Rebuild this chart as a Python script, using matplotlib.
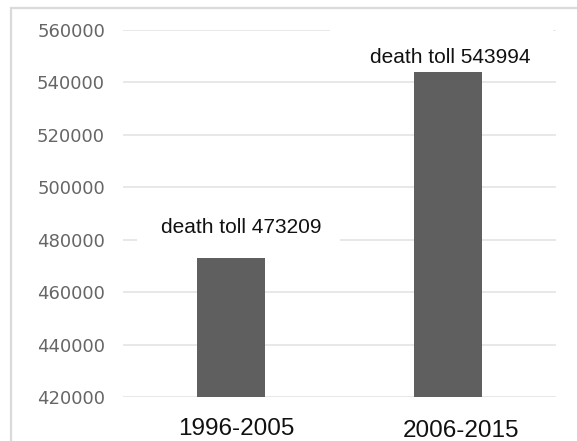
import matplotlib
matplotlib.use("Agg")
import matplotlib.pyplot as plt
import matplotlib.transforms as mtransforms
from matplotlib.patches import Rectangle

# death toll per decade
periods = ["1996-2005", "2006-2015"]
deaths = [473209, 543994]
yticks = [420000, 440000, 460000, 480000, 500000, 520000, 540000, 560000]

bar_color = "#5f5f5f"
grid_color = "#e2e2e2"

fig = plt.figure(figsize=(5.77, 4.41), dpi=100)
ax = fig.add_axes([0.2132, 0.0998, 0.7504, 0.8322])

x = list(range(len(periods)))
ax.bar(x, deaths, width=0.314, color=bar_color, zorder=3)

ax.set_xlim(-0.5, 1.5)
ax.set_ylim(yticks[0], yticks[-1])
ax.set_yticks(yticks)
ax.set_yticklabels([str(v) for v in yticks], family="DejaVu Sans",
                   fontsize=13, color="#666666")
ax.yaxis.grid(True, color=grid_color, linewidth=1.1, zorder=0)
ax.set_axisbelow(True)
ax.tick_params(axis="y", length=0, pad=13)

ax.set_xticks(x)
ax.set_xticklabels(periods, family="Liberation Sans", fontsize=17.5, color="#111111")
ax.tick_params(axis="x", length=0, pad=15)
# small nudges of the period labels
shifts = [(5, 0), (13, -2)]
for lab, (dx, dy) in zip(ax.get_xticklabels(), shifts):
    lab.set_transform(lab.get_transform() +
                      mtransforms.ScaledTranslation(dx / 100, dy / 100, fig.dpi_scale_trans))

for s in ax.spines.values():
    s.set_visible(False)

# white backdrops behind the value labels
ax.add_patch(Rectangle((0.032, 0.40), 0.47, 0.10, transform=ax.transAxes,
                       facecolor="white", edgecolor="none", zorder=1))
ax.add_patch(Rectangle((0.478, 0.975), 0.515, 0.06, transform=ax.transAxes,
                       facecolor="white", edgecolor="none", zorder=1, clip_on=False))

# value labels above the bars
label_offsets = [(7, 17.5), (2, 6.5)]
for xi, val, (dx, dy) in zip(x, deaths, label_offsets):
    ax.annotate(f"death toll {val}", xy=(xi, val), xytext=(dx, dy),
                textcoords="offset points", ha="center", va="baseline",
                family="Liberation Sans", fontsize=15, color="#111111", zorder=5)

# light frame around the chart
fig.patches.append(Rectangle((11 / 577, -0.1), 1.2, 1.1 - 8 / 441,
                             transform=fig.transFigure, fill=False,
                             edgecolor="#dadada", linewidth=1.6))

fig.savefig("out.png", dpi=100)
